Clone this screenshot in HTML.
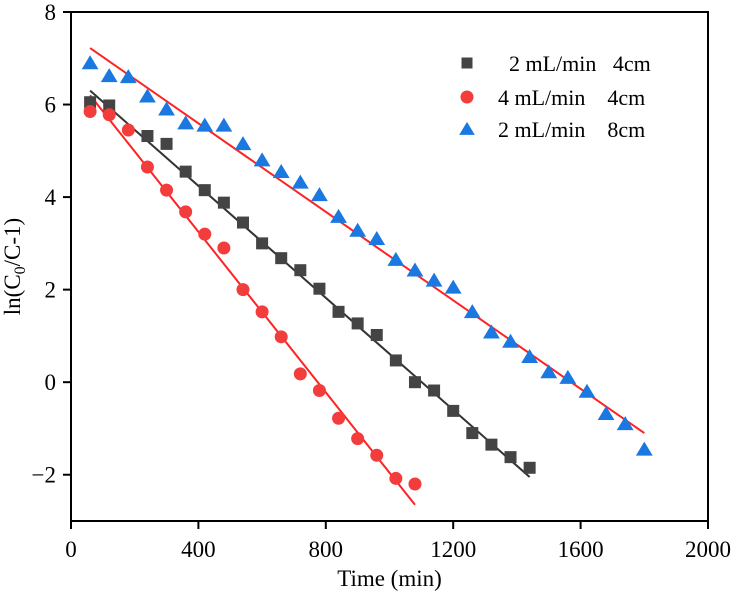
<!DOCTYPE html>
<html><head><meta charset="utf-8"><style>
body{margin:0;background:#fff}
svg text{font-family:"Liberation Serif",serif;fill:#000}
</style></head><body>
<svg id="chart" width="737" height="601" xmlns="http://www.w3.org/2000/svg"></svg>
<script>
const times = [60,120,180,240,300,360,420,480,540,600,660,720,780,840,900,960,1020,1080,1140,1200,1260,1320,1380,1440,1500,1560,1620,1680,1740,1800];
const sqTimes = [60,120,240,300,360,420,480,540,600,660,720,780,840,900,960,1020,1080,1140,1200,1260,1320,1380,1440];
const sqVals = [6.05,5.98,5.32,5.15,4.55,4.15,3.88,3.45,3.0,2.68,2.42,2.02,1.52,1.27,1.02,0.47,0.0,-0.18,-0.62,-1.1,-1.35,-1.62,-1.85];
const ciVals = [5.85,5.78,5.45,4.65,4.15,3.68,3.2,2.9,2.0,1.52,0.98,0.18,-0.18,-0.78,-1.22,-1.58,-2.08,-2.2];
const trVals = [6.9,6.62,6.6,6.18,5.9,5.6,5.55,5.55,5.15,4.8,4.55,4.32,4.05,3.58,3.28,3.1,2.65,2.42,2.2,2.05,1.52,1.08,0.88,0.55,0.22,0.1,-0.2,-0.68,-0.9,-1.45];
const sqFit = [[60,6.3],[1440,-2.05]];
const ciFit = [[60,6.2],[1080,-2.65]];
const trFit = [[60,7.22],[1800,-1.1]];
const xTicks = [0,400,800,1200,1600,2000];
const yTicks = [-2,0,2,4,6,8];

const L=71,R=708,T=12,B=521,X0=0,X1=2000,Y0=-3,Y1=8;
const sx=v=>L+(v-X0)/(X1-X0)*(R-L);
const sy=v=>B-(v-Y0)/(Y1-Y0)*(B-T);
const svg=document.getElementById('chart');
const NS='http://www.w3.org/2000/svg';
function mk(tag,attrs,parent){const e=document.createElementNS(NS,tag);for(const k in attrs)e.setAttribute(k,attrs[k]);(parent||svg).appendChild(e);return e;}

const frame=mk('rect',{x:L,y:T,width:R-L,height:B-T,fill:'none',stroke:'#000','stroke-width':2});



xTicks.forEach(t=>{
  const l=mk('line',{x1:sx(t),x2:sx(t),y1:B,y2:B+8,stroke:'#000','stroke-width':2});
  
  
  const tx=mk('text',{x:sx(t),y:B+36,'text-anchor':'middle','font-size':23});
  tx.textContent=t;
  
  
});
yTicks.forEach(t=>{
  const l=mk('line',{x1:L-8,x2:L,y1:sy(t),y2:sy(t),stroke:'#000','stroke-width':2});
  
  
  const tx=mk('text',{x:L-15,y:sy(t)+8,'text-anchor':'end','font-size':23});
  tx.textContent=t<0?'\u2212'+(-t):t;
  
  
});
const xt=mk('text',{x:(L+R)/2,y:586,'text-anchor':'middle','font-size':23});
xt.textContent='Time (min)';


const yt=mk('text',{x:0,y:0,'text-anchor':'middle','font-size':23,transform:`translate(20,${(T+B)/2}) rotate(-90)`});
yt.innerHTML='ln(C<tspan font-size="16" dy="5">0</tspan><tspan dy="-5">/C-1)</tspan>';



function fit(p,color,name){
  const l=mk('line',{x1:sx(p[0][0]),y1:sy(p[0][1]),x2:sx(p[1][0]),y2:sy(p[1][1]),stroke:color,'stroke-width':2});
  
  
}
fit(sqFit,'#333','fit-line-2ml-4cm');
fit(ciFit,'#f22','fit-line-4ml-4cm');
fit(trFit,'#f22','fit-line-2ml-8cm');

function square(x,y,s){return mk('rect',{x:x-s/2,y:y-s/2,width:s,height:s,fill:'#444'});}
function circle(x,y,s){return mk('circle',{cx:x,cy:y,r:s/2,fill:'#f33c3c'});}
function tri(x,y,s){return mk('polygon',{points:`${x},${y-s*0.55} ${x-s*0.6},${y+s*0.45} ${x+s*0.6},${y+s*0.45}`,fill:'#1a78e0'});}

sqTimes.forEach((t,i)=>{const e=square(sx(t),sy(sqVals[i]),12);
  
  });
ciVals.forEach((v,i)=>{const e=circle(sx(times[i]),sy(v),13);
  
  });
trVals.forEach((v,i)=>{const e=tri(sx(times[i]),sy(v),14);
  
  });

const legend=[['sq','  2 mL/min   4cm',63],['ci','4 mL/min    4cm',97],['tr','2 mL/min    8cm',129]];
legend.forEach(([k,label,y])=>{
  const m=k==='sq'?square(467,y,11):k==='ci'?circle(467,y,13):tri(467,y,13);
  
  
  const tx=mk('text',{x:498,y:y+8,'font-size':22,'xml:space':'preserve'});
  tx.setAttribute('style','white-space:pre');
  tx.textContent=label;
  
  
});
</script>
</body></html>
